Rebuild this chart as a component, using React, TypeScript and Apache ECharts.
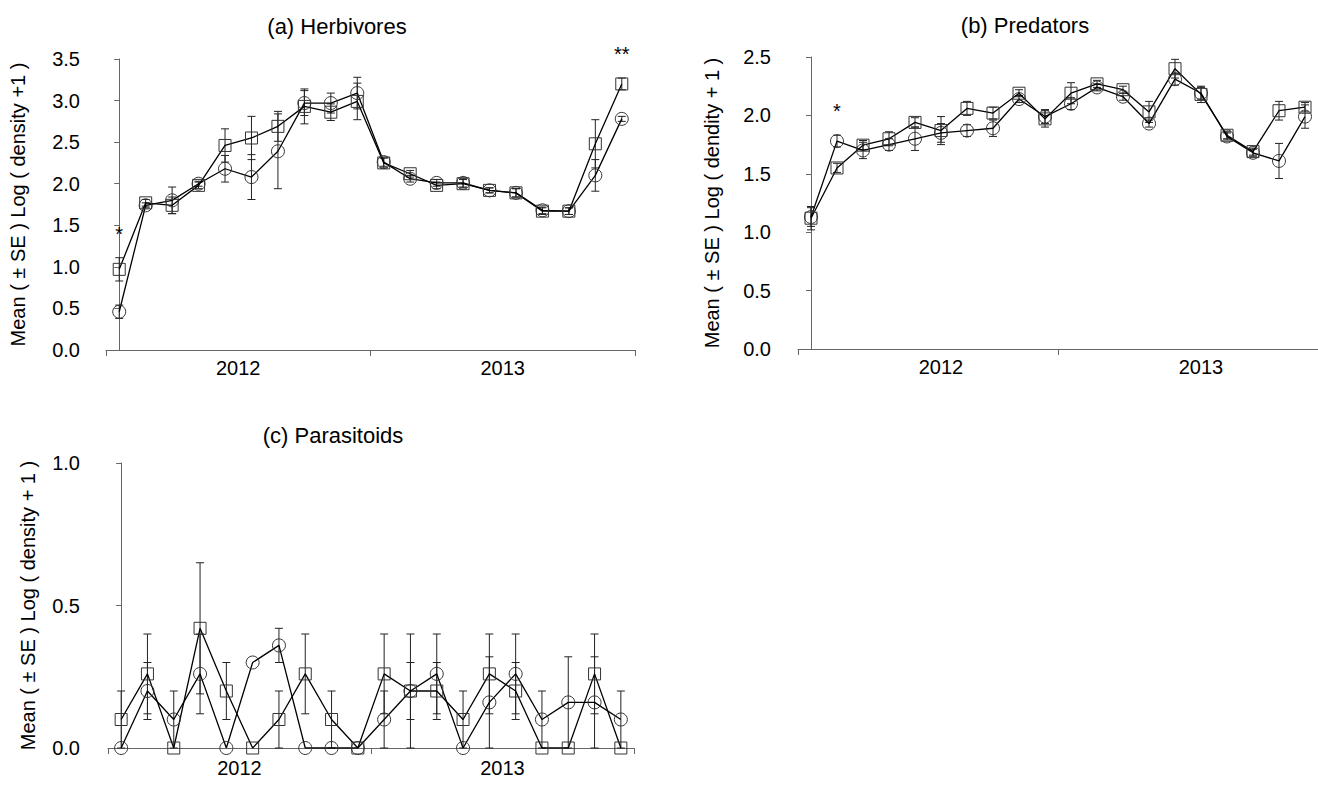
import React, { useEffect, useRef } from 'react';
import * as echarts from 'echarts';

// ---------- data ----------
const years = ['2012', '2013'];
const sampleCount = 20; // 10 sampling dates per year

// (a) Herbivores
const herbSquare = [0.97, 1.77, 1.74, 1.98, 2.46, 2.55, 2.69, 2.93, 2.86, 2.99, 2.25, 2.12, 1.98, 2.0, 1.92, 1.89, 1.67, 1.67, 2.48, 3.2];
const herbSquareSE = [0.14, 0.04, 0.1, 0.04, 0.2, 0.26, 0.18, 0.21, 0.1, 0.22, 0.06, 0.04, 0.04, 0.05, 0.03, 0.05, 0.04, 0.04, 0.29, 0.07];
const herbCircle = [0.46, 1.74, 1.8, 2.0, 2.18, 2.08, 2.39, 2.97, 2.97, 3.09, 2.26, 2.06, 2.01, 2.01, 1.92, 1.89, 1.68, 1.67, 2.1, 2.78];
const herbCircleSE = [0.08, 0.03, 0.16, 0.03, 0.16, 0.27, 0.45, 0.15, 0.12, 0.19, 0.05, 0.04, 0.04, 0.05, 0.03, 0.05, 0.04, 0.04, 0.19, 0.03];
const herbMarks = [{ i: 0, text: '*' }, { i: 19, text: '**' }];

// (b) Predators
const predSquare = [1.12, 1.55, 1.745, 1.8, 1.94, 1.87, 2.06, 2.02, 2.19, 1.97, 2.19, 2.27, 2.22, 2.03, 2.4, 2.18, 1.83, 1.69, 2.04, 2.07];
const predSquareSE = [0.1, 0.04, 0.04, 0.06, 0.04, 0.12, 0.06, 0.05, 0.03, 0.07, 0.09, 0.03, 0.03, 0.09, 0.08, 0.07, 0.03, 0.03, 0.08, 0.04];
const predCircle = [1.13, 1.78, 1.7, 1.75, 1.8, 1.85, 1.87, 1.89, 2.14, 1.99, 2.1, 2.24, 2.16, 1.93, 2.31, 2.19, 1.82, 1.68, 1.61, 1.99];
const predCircleSE = [0.08, 0.05, 0.07, 0.05, 0.1, 0.08, 0.05, 0.07, 0.03, 0.06, 0.05, 0.03, 0.03, 0.03, 0.05, 0.05, 0.03, 0.03, 0.15, 0.1];
const predMarks = [{ i: 1, text: '*' }];

// (c) Parasitoids
const paraSquare = [0.1, 0.26, 0, 0.42, 0.2, 0, 0.1, 0.26, 0.1, 0, 0.26, 0.2, 0.2, 0.1, 0.26, 0.2, 0, 0, 0.26, 0];
const paraSquareSE = [0.1, 0.14, 0, 0.23, 0.1, 0, 0.1, 0.14, 0.1, 0, 0.14, 0.2, 0.1, 0.1, 0.14, 0.1, 0, 0, 0.14, 0];
const paraCircle = [0, 0.2, 0.1, 0.26, 0, 0.3, 0.36, 0, 0, 0, 0.1, 0.2, 0.26, 0, 0.16, 0.26, 0.1, 0.16, 0.16, 0.1];
const paraCircleSE = [0, 0.1, 0.1, 0.14, 0, 0, 0.06, 0, 0, 0, 0.1, 0.1, 0.14, 0, 0.16, 0.14, 0.1, 0.16, 0.16, 0.1];

const titles = ['(a) Herbivores', '(b) Predators', '(c) Parasitoids'];
const yNames = [
  'Mean ( ± SE ) Log ( density +1 )',
  'Mean ( ± SE ) Log ( dendity + 1 )',
  'Mean ( ± SE ) Log ( density + 1 )',
];
const yMax = [3.5, 2.5, 1.0];

const FONT = "'Liberation Sans', Arial, sans-serif";
const AXIS = '#666';
const INK = '#000';

const yearFor = (v: number) => (v < sampleCount / 2 - 0.5 ? years[0] : years[1]);

function lineSeries(g: number, vals: number[], symbol: string, size: number) {
  return {
    type: 'line',
    xAxisIndex: g,
    yAxisIndex: g,
    data: vals.map((v, i) => [i, v]),
    symbol,
    symbolSize: size,
    showAllSymbol: true,
    lineStyle: { color: INK, width: 1.3 },
    itemStyle: { color: 'rgba(0,0,0,0)', borderColor: '#333', borderWidth: 1 },
    z: 3,
    silent: true,
  };
}

function errSeries(g: number, vals: number[], ses: number[]) {
  return {
    type: 'custom',
    xAxisIndex: g,
    yAxisIndex: g,
    silent: true,
    z: 2,
    data: vals.map((v, i) => [i, v - ses[i], v + ses[i]]),
    renderItem: (params: any, api: any) => {
      const x = api.value(0);
      const lo = api.value(1);
      const hi = api.value(2);
      if (hi - lo <= 0) return null;
      const a = api.coord([x, hi]);
      const b = api.coord([x, lo]);
      const hw = 4;
      const st = { stroke: '#222', lineWidth: 1 };
      return {
        type: 'group',
        children: [
          { type: 'line', shape: { x1: a[0], y1: a[1], x2: b[0], y2: b[1] }, style: st },
          { type: 'line', shape: { x1: a[0] - hw, y1: a[1], x2: a[0] + hw, y2: a[1] }, style: st },
          { type: 'line', shape: { x1: b[0] - hw, y1: b[1], x2: b[0] + hw, y2: b[1] }, style: st },
        ],
      };
    },
  };
}

function markSeries(g: number, marks: { i: number; text: string }[], s: number[], sse: number[], c: number[], cse: number[]) {
  return {
    type: 'custom',
    xAxisIndex: g,
    yAxisIndex: g,
    silent: true,
    z: 4,
    data: marks.map((m) => [m.i, Math.max(s[m.i] + sse[m.i], c[m.i] + cse[m.i])]),
    renderItem: (params: any, api: any) => {
      const p = api.coord([api.value(0), api.value(1)]);
      const txt = marks[params.dataIndex].text;
      return {
        type: 'text',
        x: p[0],
        y: p[1] - 24,
        style: { text: txt, fill: INK, fontSize: 20, fontFamily: FONT, align: 'center', verticalAlign: 'middle' },
      };
    },
  };
}

const grids = [
  { left: 106, top: 59, width: 529, height: 291 },
  { left: 798, top: 57, width: 526, height: 292 },
  { left: 108, top: 463, width: 526, height: 285 },
];
const labelPos = [
  [4.5, 14.5],
  [5, 15],
  [4.5, 14.5],
];
const xLabelMargin = [8, 8, 10];
const yLabelMargin = [26, 27, 28];
const nameGaps = [78, 76, 70];

export default function App() {
  const ref = useRef<HTMLDivElement>(null);
  useEffect(() => {
    if (!ref.current) return;
    const chart = echarts.init(ref.current, null, { renderer: 'svg' });
    const option: any = {
      animation: false,
      backgroundColor: '#fff',
      textStyle: { fontFamily: FONT },
      title: [
        { text: titles[0], left: 332, top: 10, textAlign: 'center', textStyle: { fontSize: 22, fontWeight: 'normal', color: INK, fontFamily: FONT } },
        { text: titles[1], left: 1020, top: 9, textAlign: 'center', textStyle: { fontSize: 22, fontWeight: 'normal', color: INK, fontFamily: FONT } },
        { text: titles[2], left: 328, top: 419, textAlign: 'center', textStyle: { fontSize: 22, fontWeight: 'normal', color: INK, fontFamily: FONT } },
      ],
      grid: grids.map((g) => ({ ...g, containLabel: false })),
      xAxis: grids.map((_, g) => ({
        type: 'value',
        gridIndex: g,
        min: -0.5,
        max: sampleCount - 0.5,
        axisLine: { show: true, onZero: false, lineStyle: { color: AXIS, width: 1 } },
        axisTick: { show: true, length: 6, inside: false, customValues: [-0.5, sampleCount / 2 - 0.5, sampleCount - 0.5], lineStyle: { color: AXIS } },
        axisLabel: {
          customValues: labelPos[g],
          formatter: (v: number) => yearFor(v),
          fontSize: 20,
          color: INK,
          fontFamily: FONT,
          margin: xLabelMargin[g],
        },
        splitLine: { show: false },
      })),
      yAxis: grids.map((_, g) => ({
        type: 'value',
        gridIndex: g,
        min: 0,
        max: yMax[g],
        interval: 0.5,
        name: yNames[g],
        nameLocation: 'middle',
        nameGap: nameGaps[g],
        nameRotate: 90,
        nameTextStyle: { fontSize: 20, color: INK, fontFamily: FONT },
        axisLine: { show: true, lineStyle: { color: AXIS, width: 1 } },
        axisTick: { show: true, length: 5, inside: false, lineStyle: { color: AXIS } },
        axisLabel: {
          formatter: (v: number) => v.toFixed(1),
          fontSize: 20,
          color: INK,
          fontFamily: FONT,
          margin: yLabelMargin[g],
        },
        splitLine: { show: false },
      })),
      series: [
        errSeries(0, herbSquare, herbSquareSE),
        errSeries(0, herbCircle, herbCircleSE),
        lineSeries(0, herbSquare, 'rect', 12),
        lineSeries(0, herbCircle, 'circle', 13),
        markSeries(0, herbMarks, herbSquare, herbSquareSE, herbCircle, herbCircleSE),

        errSeries(1, predSquare, predSquareSE),
        errSeries(1, predCircle, predCircleSE),
        lineSeries(1, predSquare, 'rect', 12),
        lineSeries(1, predCircle, 'circle', 13),
        markSeries(1, predMarks, predSquare, predSquareSE, predCircle, predCircleSE),

        errSeries(2, paraSquare, paraSquareSE),
        errSeries(2, paraCircle, paraCircleSE),
        lineSeries(2, paraSquare, 'rect', 12),
        lineSeries(2, paraCircle, 'circle', 13),
      ],
    };
    chart.setOption(option);
    return () => chart.dispose();
  }, []);
  return (
    <div
      ref={ref}
      style={{ position: 'absolute', left: 0, top: 0, width: 1318, height: 789, background: '#fff' }}
    />
  );
}
